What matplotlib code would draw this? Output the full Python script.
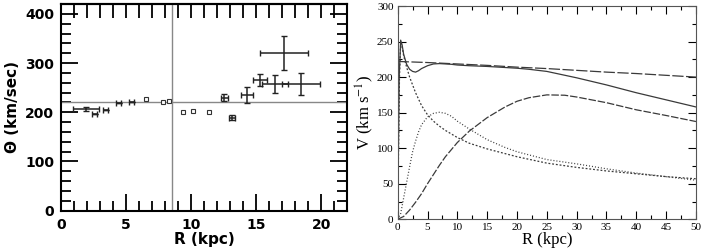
import matplotlib
matplotlib.use('Agg')
from matplotlib import pyplot as plt
from matplotlib.ticker import MultipleLocator

# Left panel: measured rotation points with errors
r_err = [1.94, 2.58, 3.42, 4.41, 5.43, 12.55, 13.14, 14.29, 15.29, 16.45, 17.13, 18.43]
v_err = [207, 197, 204, 218, 220, 230, 189, 235, 266, 258, 320, 258]
r_err_size = [1.0, 0.2, 0.2, 0.2, 0.2, 0.28, 0.25, 0.45, 0.57, 1.0, 1.82, 1.46]
v_err_size = [4, 0, 0, 0, 0, 8, 5, 16, 12, 18, 35, 22]

# Left panel: points without error bars
r_sq = [6.52, 7.8, 8.3, 9.4, 10.14, 11.4]
v_sq = [226, 220, 222, 200.5, 202.5, 200.5]

theta0 = 220
r_sun = 8.5

# Right panel: model curves
r_total = [0, 0.25, 0.5, 0.75, 1, 1.5, 2, 2.5, 3, 3.5, 4, 5, 6, 7, 8, 9, 10, 12, 15, 18, 20, 22, 25, 30, 35, 40, 45, 50]
v_total = [0, 200, 252, 245, 232, 218, 211, 208, 207, 209, 212, 216, 218.5, 219, 218.5, 218, 217, 216, 215, 213.5, 212.5, 211, 208, 199, 189, 178, 168, 158]

r_flat = [0, 5, 10, 15, 20, 25, 30, 35, 40, 45, 50]
v_flat = [222, 220.5, 218.5, 216.5, 214, 212, 209.5, 207, 205, 202.5, 200]

r_halo = [0, 1, 2, 3, 4, 5, 6, 7, 8, 10, 12, 15, 18, 20, 22, 25, 28, 30, 35, 40, 45, 50]
v_halo = [0, 4, 13, 24, 36, 50, 63, 76, 88, 108, 124, 143, 158, 166, 171, 175, 174.5, 172, 164, 154, 146, 137.5]

r_bulge = [0, 0.3, 0.5, 0.8, 1, 1.5, 2, 3, 4, 5, 6, 7, 8, 10, 12, 15, 20, 25, 30, 35, 40, 45, 50]
v_bulge = [0, 200, 248, 240, 230, 214, 200, 178, 160, 147, 138, 131, 125, 115, 107, 99, 88, 79, 73, 68, 64, 60, 57]

r_disk = [0, 0.5, 1, 1.5, 2, 2.5, 3, 3.5, 4, 5, 6, 7, 8, 9, 10, 12, 15, 18, 20, 25, 30, 35, 40, 45, 50]
v_disk = [0, 8, 30, 52, 74, 95, 110, 123, 133, 144, 149, 150.5, 149, 145, 138, 127, 112, 101, 95, 84, 78, 71, 65, 60, 55]

plt.rcParams['mathtext.fontset'] = 'stix'

fig = plt.figure(figsize=(7.02, 2.49), dpi=100)

# ---- left panel
ax1 = fig.add_axes([0.0872, 0.1538, 0.4076, 0.830])
ax1.axhline(theta0, color='#888888', lw=1)
ax1.axvline(r_sun, color='#888888', lw=1)
ax1.errorbar(r_err, v_err, xerr=r_err_size, yerr=v_err_size, fmt='none',
             ecolor='#222222', elinewidth=1.1, capsize=2, capthick=1)
ax1.plot(r_sq, v_sq, 's', ms=3, mfc='white', mec='#333333', mew=0.8)
ax1.set_xlim(0, 22)
ax1.set_ylim(0, 420)
ax1.xaxis.set_major_locator(MultipleLocator(5))
ax1.xaxis.set_minor_locator(MultipleLocator(1))
ax1.yaxis.set_major_locator(MultipleLocator(100))
ax1.yaxis.set_minor_locator(MultipleLocator(20))
ax1.tick_params(which='both', direction='in', left=True, right=True, top=False,
                labelsize=10, width=1.3, pad=5)
ax1.tick_params(which='major', length=12)
ax1.tick_params(which='minor', length=7)
for lab in ax1.get_xticklabels() + ax1.get_yticklabels():
    lab.set_fontweight('bold')
top = ax1.secondary_xaxis('top')
top.set_xticks(list(range(1, 22)))
top.tick_params(direction='in', length=10, width=1.3, labeltop=False)
for s in ax1.spines.values():
    s.set_linewidth(1.5)
top.spines['top'].set_linewidth(1.5)
ax1.set_xlabel('R (kpc)', fontsize=11, fontweight='bold', labelpad=0)
ax1.set_ylabel('Θ (km/sec)', fontsize=11, fontweight='bold', labelpad=4)

# ---- right panel
ax2 = fig.add_axes([0.5665, 0.1193, 0.4249, 0.8566])
lc = '#3a3a3a'
ax2.plot(r_total, v_total, color=lc, lw=0.9)
ax2.plot(r_flat, v_flat, color=lc, lw=0.9, dashes=(9, 2))
ax2.plot(r_halo, v_halo, color=lc, lw=0.9, dashes=(6, 1.5))
ax2.plot(r_bulge, v_bulge, color=lc, lw=0.9, dashes=(1.5, 1.5))
ax2.plot(r_disk, v_disk, color=lc, lw=0.9, dashes=(0.8, 1.6))
ax2.set_xlim(0, 50)
ax2.set_ylim(0, 300)
ax2.xaxis.set_major_locator(MultipleLocator(5))
ax2.xaxis.set_minor_locator(MultipleLocator(2.5))
ax2.yaxis.set_major_locator(MultipleLocator(50))
ax2.yaxis.set_minor_locator(MultipleLocator(25))
ax2.tick_params(which='both', direction='in', top=True, right=True, labelsize=8,
                width=0.8, pad=3)
ax2.tick_params(which='major', length=6)
ax2.tick_params(which='minor', length=3)
for lab in ax2.get_xticklabels() + ax2.get_yticklabels():
    lab.set_family('Liberation Serif')
for s in ax2.spines.values():
    s.set_linewidth(0.8)
    s.set_color('#555555')
ax2.set_xlabel('R (kpc)', fontsize=12, family='Liberation Serif', labelpad=0)
ax2.set_ylabel(r'V (km s$^{-1}$)', fontsize=12, family='Liberation Serif', labelpad=1)

plt.savefig('out.png', dpi=100)
